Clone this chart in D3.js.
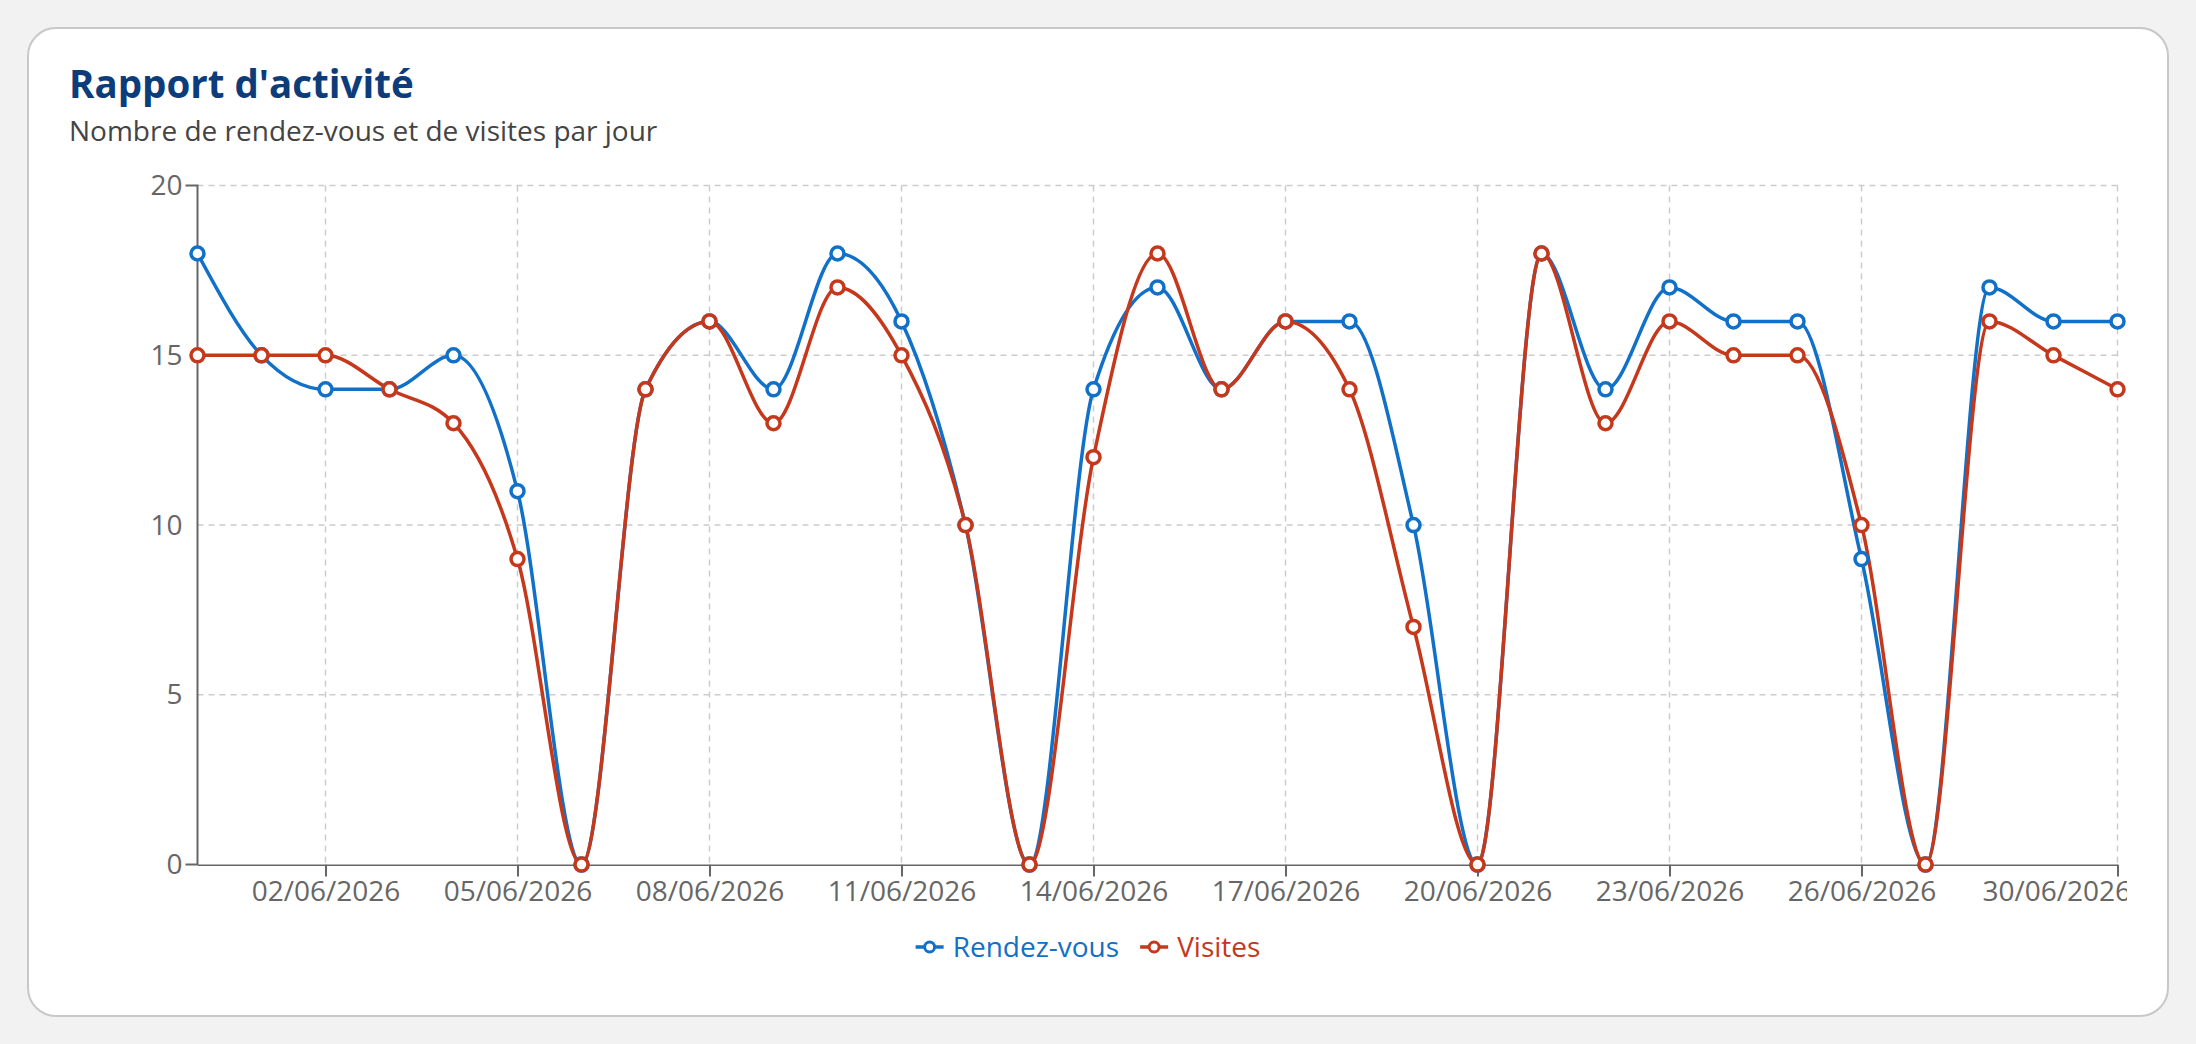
<!DOCTYPE html>
<html>
<head>
<meta charset="utf-8">
<script src="https://cdn.jsdelivr.net/npm/d3@7"></script>
<style>
  html, body { margin: 0; padding: 0; background: #f2f2f2; }
  svg { display: block; }
  text { font-family: "Open Sans", "Noto Sans", sans-serif; }
</style>
</head>
<body>
<svg id="chart" width="2196" height="1044"></svg>
<script>
// ---- data ----
const dates = [
  "31/05/2026","01/06/2026","02/06/2026","03/06/2026","04/06/2026","05/06/2026","06/06/2026",
  "07/06/2026","08/06/2026","09/06/2026","10/06/2026","11/06/2026","12/06/2026","13/06/2026",
  "14/06/2026","15/06/2026","16/06/2026","17/06/2026","18/06/2026","19/06/2026","20/06/2026",
  "21/06/2026","22/06/2026","23/06/2026","24/06/2026","25/06/2026","26/06/2026","27/06/2026",
  "28/06/2026","29/06/2026","30/06/2026"
];
const rendezVous = [18,15,14,14,15,11,0,14,16,14,18,16,10,0,14,17,14,16,16,10,0,18,14,17,16,16,9,0,17,16,16];
const visites    = [15,15,15,14,13,9,0,14,16,13,17,15,10,0,12,18,14,16,14,7,0,18,13,16,15,15,10,0,16,15,14];
const xTickLabels = ["02/06/2026","05/06/2026","08/06/2026","11/06/2026","14/06/2026","17/06/2026","20/06/2026","23/06/2026","26/06/2026","30/06/2026"];
const yTicks = [0,5,10,15,20];
const seriesNames = ["Rendez-vous","Visites"];
const seriesColors = ["#1170c8","#c5381c"];

const title = "Rapport d'activité";
const subtitle = "Nombre de rendez-vous et de visites par jour";

(function () {
// ---- layout ----
const parse = d3.timeParse("%d/%m/%Y");
const fmt = d3.timeFormat("%d/%m/%Y");
const svg = d3.select("#chart");

svg.append("rect")
  .attr("x", 28).attr("y", 28).attr("width", 2140).attr("height", 988)
  .attr("rx", 28).attr("ry", 28)
  .attr("fill", "#ffffff").attr("stroke", "#c8c8c8").attr("stroke-width", 2);

svg.append("text").attr("x", 69).attr("y", 98)
  .attr("font-size", 38.5).attr("font-weight", 700).attr("fill", "#0c3d7a")
  .text(title);
svg.append("text").attr("x", 69).attr("y", 141)
  .attr("font-size", 28).attr("fill", "#444444")
  .text(subtitle);

const pLeft = 197.5, pRight = 2117.5, pTop = 185.6, pBottom = 864.6;

const x = d3.scaleTime()
  .domain([parse(dates[0]), parse(dates[dates.length - 1])])
  .range([pLeft, pRight]);
const y = d3.scaleLinear().domain([0, 20]).range([pBottom, pTop]);

const tickDates = xTickLabels.map(parse);

// grid
const grid = svg.append("g");
grid.selectAll("line.h").data(yTicks.filter(v => v > 0)).join("line")
  .attr("x1", pLeft).attr("x2", pRight)
  .attr("y1", d => y(d)).attr("y2", d => y(d))
  .attr("stroke", "#cccccc").attr("stroke-width", 1.5).attr("stroke-dasharray", "6,5");
grid.selectAll("line.v").data(tickDates).join("line")
  .attr("x1", d => x(d)).attr("x2", d => x(d))
  .attr("y1", pTop).attr("y2", pBottom)
  .attr("stroke", "#cccccc").attr("stroke-width", 1.5).attr("stroke-dasharray", "6,5");

// clip for x labels
svg.append("clipPath").attr("id", "xclip")
  .append("rect").attr("x", 0).attr("y", 0).attr("width", 2127).attr("height", 1044);

// axes
const yAxis = svg.append("g").attr("transform", `translate(${pLeft},0)`)
  .call(d3.axisLeft(y).tickValues(yTicks).tickSizeInner(0).tickSizeOuter(12).tickPadding(15));
const xAxis = svg.append("g").attr("transform", `translate(0,${pBottom})`)
  .attr("clip-path", "url(#xclip)")
  .call(d3.axisBottom(x).tickValues(tickDates).tickFormat(fmt).tickSizeInner(12).tickSizeOuter(0).tickPadding(5));

[yAxis, xAxis].forEach(a => {
  a.select(".domain").attr("stroke", "#666666").attr("stroke-width", 2);
  a.selectAll(".tick line").attr("stroke", "#666666").attr("stroke-width", 2);
  a.selectAll("text").attr("font-size", 28).attr("fill", "#666666")
    .attr("font-family", '"Open Sans", "Noto Sans", sans-serif');
});
yAxis.select(".domain").attr("d", `M-12,${pTop}H0V${pBottom}H-12`);
xAxis.selectAll(".tick text").filter(d => +d === +tickDates[tickDates.length - 1])
  .attr("text-anchor", "end").attr("dx", 13);

// lines
const allSeries = [rendezVous, visites];
const line = d3.line()
  .x((d, i) => x(parse(dates[i])))
  .y(d => y(d))
  .curve(d3.curveMonotoneX);

allSeries.forEach((vals, s) => {
  svg.append("path").datum(vals)
    .attr("fill", "none").attr("stroke", seriesColors[s]).attr("stroke-width", 3.5)
    .attr("d", line);
});
allSeries.forEach((vals, s) => {
  svg.append("g").selectAll("circle").data(vals).join("circle")
    .attr("cx", (d, i) => x(parse(dates[i])))
    .attr("cy", d => y(d))
    .attr("r", 6.5)
    .attr("fill", "#ffffff").attr("stroke", seriesColors[s]).attr("stroke-width", 3.5);
});

// legend
const legend = svg.append("g");
const items = seriesNames.map((name, i) => {
  const g = legend.append("g");
  g.append("line").attr("x1", 0).attr("x2", 28).attr("y1", 0).attr("y2", 0)
    .attr("stroke", seriesColors[i]).attr("stroke-width", 3.5);
  g.append("circle").attr("cx", 14).attr("cy", 0).attr("r", 5)
    .attr("fill", "#fff").attr("stroke", seriesColors[i]).attr("stroke-width", 3);
  const t = g.append("text").attr("x", 37).attr("y", 0).attr("dy", "0.35em")
    .attr("font-size", 28).attr("fill", seriesColors[i]).text(name);
  return { g, w: 37 + t.node().getComputedTextLength() };
});
const gap = 21;
const totalW = d3.sum(items, d => d.w) + gap * (items.length - 1);
let cx = 1088 - totalW / 2;
items.forEach(it => {
  it.g.attr("transform", `translate(${cx},947)`);
  cx += it.w + gap;
});
})();
</script>
</body>
</html>
